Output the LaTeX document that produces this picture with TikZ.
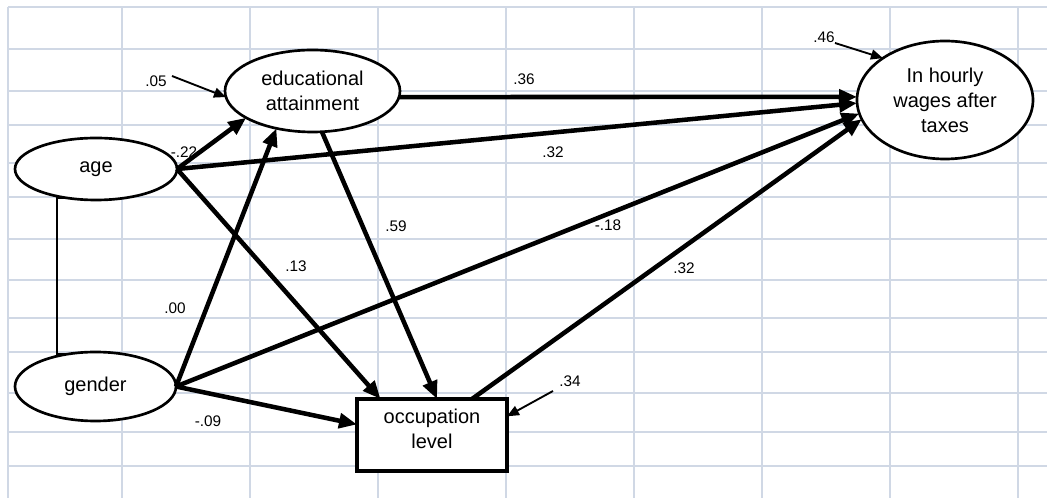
\documentclass[tikz,border=0pt]{standalone}
\usepackage{fontspec}
\setmainfont{Liberation Sans}
\usetikzlibrary{arrows.meta,shapes.geometric}
\definecolor{gridblue}{RGB}{208,216,229}
\tikzset{
	var/.style={draw, ellipse, line width=2pt, fill=white, inner sep=0pt, outer sep=0pt, align=center, font=\fontsize{15}{18.75}\selectfont},
	obs/.style={draw, rectangle, line width=2.4pt, fill=white, inner sep=0pt, outer sep=0pt, align=center, text depth=10pt, font=\fontsize{15}{18.75}\selectfont},
	effect/.style={line width=3.4pt, -{Triangle[length=13.5pt,width=11pt]}},
	err/.style={line width=1.4pt, -{Triangle[length=9pt,width=7.5pt]}},
	corr/.style={line width=1.5pt},
	coef/.style={inner sep=0pt, font=\fontsize{11.5}{13}\selectfont},
	gridline/.style={gridblue, line width=1.4pt}
}
\begin{document}
\begin{tikzpicture}[x=0.75pt, y=-0.75pt]
	\useasboundingbox (0,0) rectangle (1047,498);
	% Spreadsheet grid
	\fill[white] (0,0) rectangle (1047,498);
	\foreach \x in {8,122,250,...,1018} {
		\draw[gridline] (\x,7) -- (\x,498);
	}
	\foreach \y in {7,49,91,125,163,197,239,280,318,352,393,432,466} {
		\draw[gridline] (8,\y) -- (1047,\y);
	}
	
	% Variables
	\node[var, minimum width=121.5pt, minimum height=46.5pt] (age) at (96,169) {age};
	\node[var, minimum width=120.75pt, minimum height=51.75pt] (gender) at (95.5,386.5) {gender};
	\node[var, minimum width=131.25pt, minimum height=61.5pt] (educ) at (312.5,91) {educational\\attainment};
	\node[var, minimum width=132pt, minimum height=88.5pt] (wages) at (945,100) {In hourly\\wages after\\taxes};
	\node[obs, minimum width=112.5pt, minimum height=54pt] (occ) at (432,435) {occupation\\level};
	
	% Correlation age -- gender
	\draw[corr] (age.226) -- ++(-11,0) |- (gender.130);
	
	% Paths
	\draw[effect] (age.east) -- (educ.202);
	\draw[effect] (age.east) -- (wages.182);
	\draw[effect] (age.east) -- (occ.145);
	\draw[effect] (gender.east) -- (educ.226);
	\draw[effect] (gender.east) -- (wages.189);
	\draw[effect] (gender.east) -- (occ.172);
	\draw[effect] (educ.-4) -- (wages.178);
	\draw[effect] (educ.-77) -- (occ.82);
	\draw[effect] (occ.42) -- (wages.193);
	
	% Residuals
	\coordinate (e05) at (172,76);
	\coordinate (e46) at (835,43);
	\coordinate (e34) at (553,391);
	\draw[err] (e05) -- (educ.184);
	\draw[err] (e46) -- (wages.146);
	\draw[err] (e34) -- (occ.14);
	
	% Coefficients
	\node[coef] (l05) at (156,81) {.05};
	\node[coef] (l46) at (824,37) {.46};
	\node[coef] (l34) at (570,381) {.34};
	\node[coef] (l36) at (524,79) {.36};
	\node[coef] (l32a) at (553,152) {.32};
	\node[coef] (l22) at (184,152) {-.22};
	\node[coef] (l13) at (296,266) {.13};
	\node[coef] (l00) at (175,308) {.00};
	\node[coef] (l09) at (208,421) {-.09};
	\node[coef] (l59) at (396,226) {.59};
	\node[coef] (l18) at (608,225) {-.18};
	\node[coef] (l32b) at (684,268) {.32};
\end{tikzpicture}
\end{document}
